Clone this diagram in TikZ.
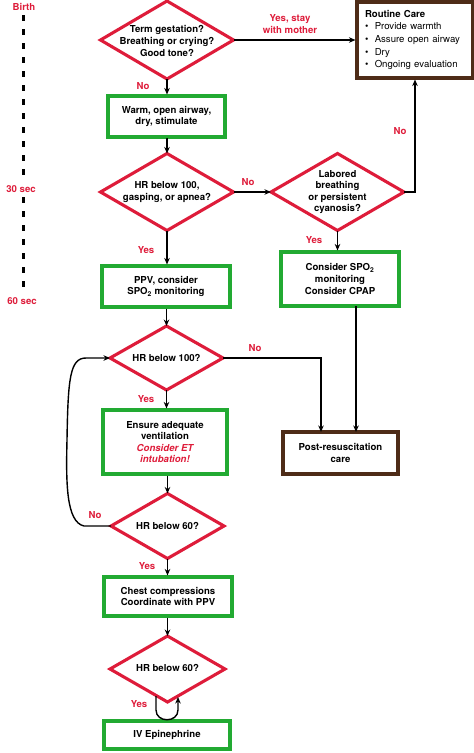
\documentclass[tikz,border=0pt]{standalone}
\usepackage{fontspec}
\setmainfont{TeX Gyre Heros}
\usetikzlibrary{shapes.geometric,arrows.meta}
\definecolor{dred}{RGB}{222,28,58}
\definecolor{dgreen}{RGB}{34,170,50}
\definecolor{dbrown}{RGB}{78,44,24}
\begin{document}
\begin{tikzpicture}[x=1pt,y=-1pt,
  font=\fontsize{9.6}{11.6}\selectfont\bfseries,
  dia/.style={shape=diamond, draw=dred, line width=3.1pt, inner sep=0pt, outer sep=0pt},
  txt/.style={align=center, inner sep=0pt},
  gbox/.style={draw=dgreen, line width=3.1pt, align=center, inner sep=0pt},
  bbox/.style={draw=dbrown, line width=3.1pt, inner sep=0pt},
  lab/.style={text=dred, align=center, inner sep=1pt},
  tlab/.style={text=dred, fill=white, inner sep=2pt},
  conn/.style={line width=1.4pt, -{Stealth[length=6.5pt,width=5.5pt]}},
  plain/.style={line width=1.4pt}]
\useasboundingbox (0,0) rectangle (474,753);

% time line
\coordinate (tl1) at (23.5,15);
\coordinate (tl2) at (23.5,300);
\draw[line width=2.3pt, dash pattern=on 6pt off 8pt] (tl1) -- (tl2);
\node[tlab] (tbirth) at (24,7) {Birth};
\node[tlab] (t30) at (21,189) {30 sec};
\node[tlab] (t60) at (22,301) {60 sec};

% diamonds
\node[dia, minimum width=133pt, minimum height=78pt] (d1) at (167,40) {};
\node[txt] (d1x) at (167,41) {Term gestation?\\Breathing or crying?\\Good tone?};
\node[dia, minimum width=133pt, minimum height=77pt] (d2) at (167,192) {};
\node[txt] (d2x) at (167,192) {HR below 100,\\gasping, or apnea?};
\node[dia, minimum width=133pt, minimum height=77pt] (d3) at (337.5,192) {};
\node[txt] (d3x) at (337.5,192) {Labored\\breathing\\or persistent\\cyanosis?};
\node[dia, minimum width=113pt, minimum height=64pt] (d4) at (166.5,358) {};
\node[txt] (d4x) at (166.5,358) {HR below 100?};
\node[dia, minimum width=113pt, minimum height=65pt] (d5) at (167.5,526) {};
\node[txt] (d5x) at (167.5,526) {HR below 60?};
\node[dia, minimum width=115pt, minimum height=66pt] (d6) at (167.5,669) {};
\node[txt] (d6x) at (167.5,668) {HR below 60?};

% boxes
\node[bbox, minimum width=116pt, minimum height=76pt, text width=100pt, align=left] (rc) at (415,40)
  {Routine Care\\[1pt]
   \mdseries\textbullet\ \ Provide warmth\\[1pt]
   \mdseries\textbullet\ \ Assure open airway\\[1pt]
   \mdseries\textbullet\ \ Dry\\[1pt]
   \mdseries\textbullet\ \ Ongoing evaluation};
\node[gbox, minimum width=117pt, minimum height=41pt] (b1) at (166.5,116.5) {Warm, open airway,\\dry, stimulate};
\node[gbox, minimum width=128pt, minimum height=41pt] (b3) at (166,286.5) {PPV, consider\\SPO\textsubscript{2} monitoring};
\node[gbox, minimum width=118pt, minimum height=54pt] (b2) at (340,279) {Consider SPO\textsubscript{2}\\monitoring\\Consider CPAP};
\node[bbox, minimum width=115pt, minimum height=42pt, align=center] (post) at (340.5,453) {Post-resuscitation\\care};
\node[gbox, minimum width=124pt, minimum height=64pt] (b4) at (165,442)
  {Ensure adequate\\ventilation\\{\color{dred}\itshape Consider ET}\\{\color{dred}\itshape intubation!}};
\node[gbox, minimum width=128pt, minimum height=39pt] (b5) at (168,596.5) {Chest compressions\\Coordinate with PPV};
\node[gbox, minimum width=126pt, minimum height=28pt] (b6) at (167,735) {IV Epinephrine};

% connectors
\draw[conn] (d1.east) -- (rc.west |- d1.east);
\node[lab] (lyes1) at (290,24) {Yes, stay\\with mother};
\draw[conn] (d1.south) -- (d1.south |- b1.north);
\node[lab] (lno1) at (143,86) {No};
\draw[conn] (b1.south) -- (b1.south -| d2.north) -- (d2.north);
\draw[conn] (d2.east) -- (d3.west);
\node[lab] (lno2) at (248,182) {No};
\draw[conn] (d3.east) -| (rc.south);
\node[lab] (lno3) at (400,131) {No};
\draw[conn] (d3.south) -- (d3.south |- b2.north);
\node[lab] (lyes3) at (314,240) {Yes};
\draw[conn] (d2.south) -- (d2.south |- b3.north);
\node[lab] (lyes2) at (146,250) {Yes};
\draw[conn] (b3.south -| d4.north) -- (d4.north);
\coordinate (p1) at (321,358);
\coordinate (p1b) at (321,432);
\draw[conn] (d4.east) -- (p1) -- (p1b);
\node[lab] (lno4) at (255,348) {No};
\coordinate (p2) at (356,306);
\coordinate (p2b) at (356,432);
\draw[conn] (p2) -- (p2b);
\draw[conn] (d4.south) -- (d4.south |- b4.north);
\node[lab] (lyes4) at (146,399) {Yes};
\draw[conn] (b4.south -| d5.north) -- (d5.north);
\coordinate (lp1) at (84,526);
\coordinate (lp2) at (86,358);
\draw[conn] (d5.west) -- (lp1) .. controls (66,522) and (66,482) .. (67,440)
   .. controls (68,378) and (70,358) .. (lp2) -- (d4.west);
\node[lab] (lno5) at (95,515) {No};
\draw[conn] (d5.south) -- (d5.south |- b5.north);
\node[lab] (lyes5) at (147,566) {Yes};
\draw[conn] (b5.south -| d6.north) -- (d6.north);
\coordinate (u1) at (156,696);
\coordinate (u2) at (178,697);
\draw[conn] (u1) -- (156,710) .. controls (156,723) and (178,723) .. (178,710) -- (u2);
\node[lab] (lyes6) at (139,704) {Yes};
\end{tikzpicture}
\end{document}
